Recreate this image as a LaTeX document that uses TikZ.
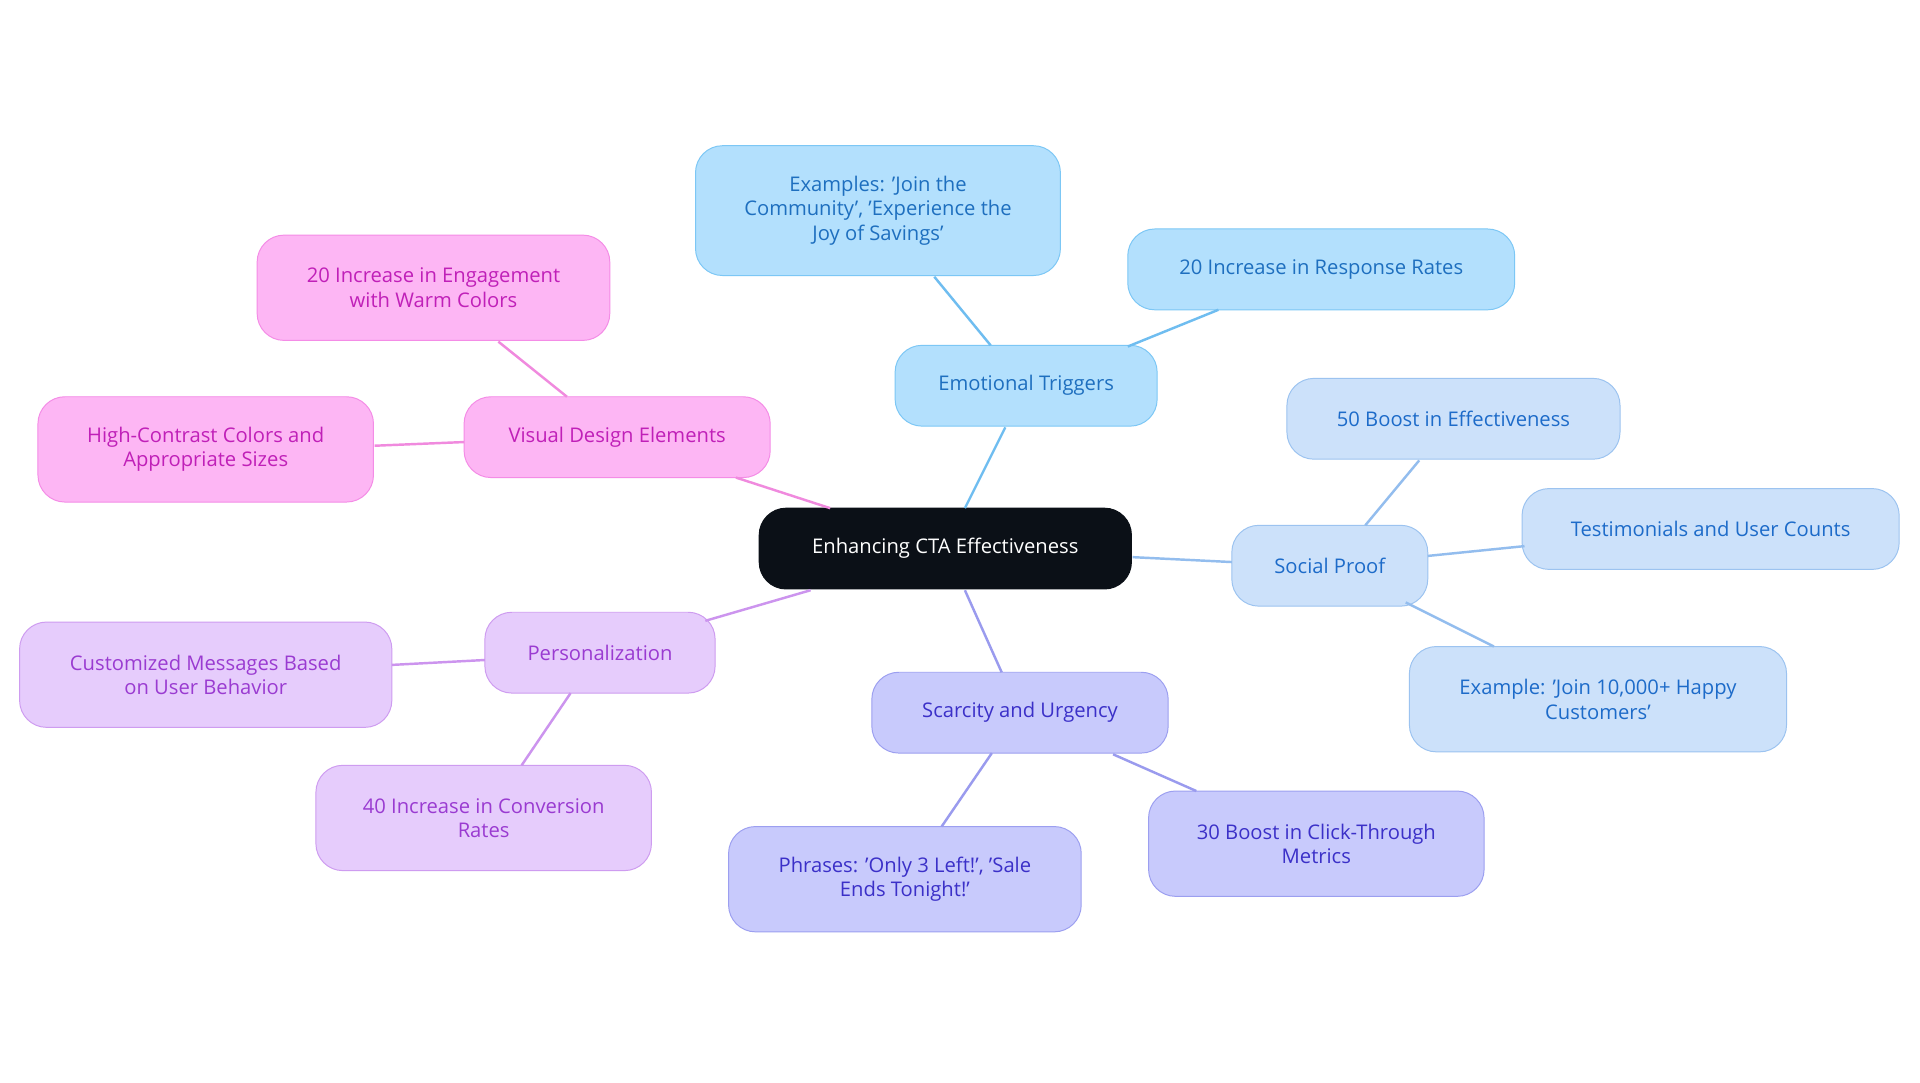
\documentclass[tikz,border=0pt]{standalone}
\usepackage{fontspec}
\setmainfont{Open Sans}
\begin{document}
\begin{tikzpicture}[x=1pt,y=-1pt,
  box/.style={draw,rounded corners=22pt,line width=0.8pt,align=center,inner sep=0pt,font=\fontsize{16.5}{20}\selectfont},
  eb/.style={box,fill=eF,draw=eD,text=eT},
  sb/.style={box,fill=sF,draw=sD,text=sT},
  cb/.style={box,fill=cF,draw=cD,text=cT},
  pb/.style={box,fill=pF,draw=pD,text=pT},
  vb/.style={box,fill=vF,draw=vD,text=vT},
  ln/.style={line width=2pt}]
\definecolor{eF}{HTML}{B3E0FD}\definecolor{eD}{HTML}{7CC7F5}\definecolor{eT}{HTML}{1E6FBF}
\definecolor{sF}{HTML}{CCE1FA}\definecolor{sD}{HTML}{9CC3F0}\definecolor{sT}{HTML}{1D6BC9}
\definecolor{cF}{HTML}{C8CAFC}\definecolor{cD}{HTML}{9C9FF0}\definecolor{cT}{HTML}{3B30C8}
\definecolor{pF}{HTML}{E6CCFC}\definecolor{pD}{HTML}{CE9CF0}\definecolor{pT}{HTML}{9A3BD1}
\definecolor{vF}{HTML}{FDB6F4}\definecolor{vD}{HTML}{F48CE6}\definecolor{vT}{HTML}{C020B8}
\definecolor{eL}{HTML}{6FBDF0}\definecolor{sL}{HTML}{93BDEE}\definecolor{cL}{HTML}{9A9BEE}
\definecolor{pL}{HTML}{CC94EE}\definecolor{vL}{HTML}{F08ADE}
\useasboundingbox[fill=white] (0,0) rectangle (1568,884);
\node[box,fill={rgb,255:red,11;green,16;blue,23},draw={rgb,255:red,11;green,16;blue,23},text=white,minimum width=304pt,minimum height=66pt] (root) at (772,448) {Enhancing CTA Effectiveness};
\node[eb,minimum width=214pt,minimum height=66pt] (et) at (838,315) {Emotional Triggers};
\node[eb,minimum width=298pt,minimum height=106pt] (ex) at (717,172) {Examples: 'Join the\\Community', 'Experience the\\Joy of Savings'};
\node[eb,minimum width=316pt,minimum height=66pt] (rr) at (1079,220) {20 Increase in Response Rates};
\node[sb,minimum width=160pt,minimum height=66pt] (sp) at (1086,462) {Social Proof};
\node[sb,minimum width=272pt,minimum height=66pt] (b50) at (1187,342) {50 Boost in Effectiveness};
\node[sb,minimum width=308pt,minimum height=66pt] (tu) at (1397,432) {Testimonials and User Counts};
\node[sb,minimum width=308pt,minimum height=86pt] (ej) at (1305,571) {Example: 'Join 10,000+ Happy\\Customers'};
\node[cb,minimum width=242pt,minimum height=66pt] (su) at (833,582) {Scarcity and Urgency};
\node[cb,minimum width=288pt,minimum height=86pt] (ph) at (739,718) {Phrases: 'Only 3 Left!', 'Sale\\Ends Tonight!'};
\node[cb,minimum width=274pt,minimum height=86pt] (b30) at (1075,689) {30 Boost in Click-Through\\Metrics};
\node[pb,minimum width=188pt,minimum height=66pt] (pe) at (490,533) {Personalization};
\node[pb,minimum width=304pt,minimum height=86pt] (cm) at (168,551) {Customized Messages Based\\on User Behavior};
\node[pb,minimum width=274pt,minimum height=86pt] (c40) at (395,668) {40 Increase in Conversion\\Rates};
\node[vb,minimum width=250pt,minimum height=66pt] (vd) at (504,357) {Visual Design Elements};
\node[vb,minimum width=288pt,minimum height=86pt] (we) at (354,235) {20 Increase in Engagement\\with Warm Colors};
\node[vb,minimum width=274pt,minimum height=86pt] (hc) at (168,367) {High-Contrast Colors and\\Appropriate Sizes};
\begin{scope}[on background layer/.try]
\end{scope}
\draw[ln,eL] (788,415) -- (821,349);
\draw[ln,eL] (809,282) -- (763,226);
\draw[ln,eL] (921,283) -- (995,253);
\draw[ln,sL] (925,455) -- (1006,459);
\draw[ln,sL] (1115,429) -- (1159,376);
\draw[ln,sL] (1166,454) -- (1245,446);
\draw[ln,sL] (1148,492) -- (1220,528);
\draw[ln,cL] (788,482) -- (818,549);
\draw[ln,cL] (810,615) -- (769,675);
\draw[ln,cL] (909,616) -- (977,646);
\draw[ln,pL] (662,482) -- (576,507);
\draw[ln,pL] (396,539) -- (320,543);
\draw[ln,pL] (466,566) -- (426,625);
\draw[ln,vL] (678,415) -- (601,390);
\draw[ln,vL] (463,324) -- (407,279);
\draw[ln,vL] (379,361) -- (306,364);
\end{tikzpicture}
\end{document}
